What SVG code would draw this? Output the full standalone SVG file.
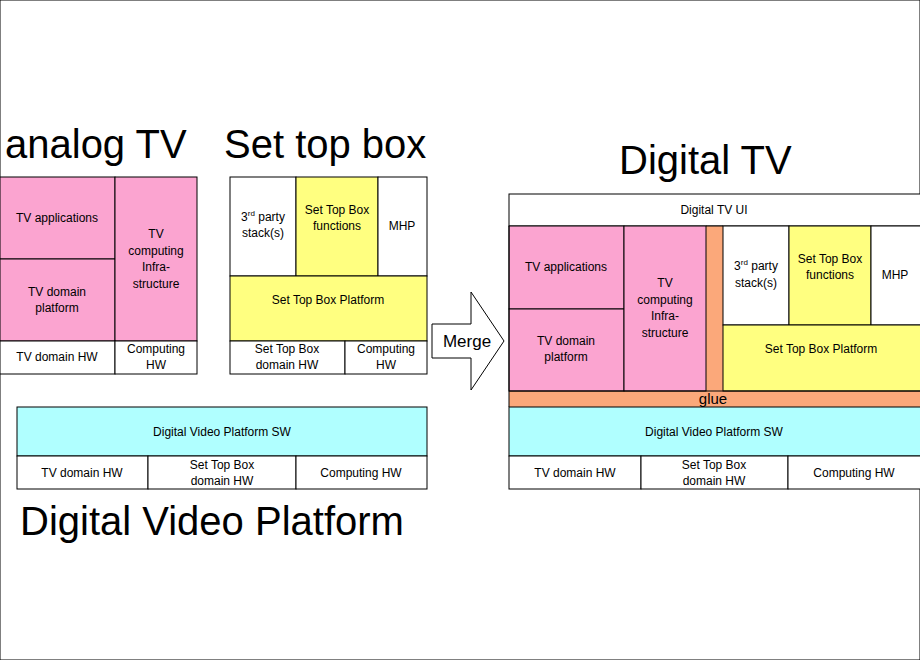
<svg xmlns="http://www.w3.org/2000/svg" width="920" height="660" viewBox="0 0 920 660">
<style>
rect{stroke:#000;stroke-width:1}
.w{fill:#fff}.p{fill:#fba4d0}.y{fill:#ffff80}.c{fill:#b0ffff}.g{fill:#fba87a;stroke:none}
text{font-family:"Liberation Sans",Arial,sans-serif;font-size:12px;text-anchor:middle;fill:#000}
.t{font-size:40px;text-anchor:start}
sup{font-size:8px}
</style>
<rect width="920" height="660" fill="#fff" stroke="none"/>
<text class="t" x="5" y="158">analog TV</text>
<text class="t" x="224" y="158">Set top box</text>
<text class="t" x="619" y="174">Digital TV</text>
<text class="t" x="20" y="535">Digital Video Platform</text>

<g id="analog">
<rect class="p" x="0" y="177" width="115" height="82"/><text x="57" y="222">TV applications</text>
<rect class="p" x="0" y="259" width="115" height="82"/><text x="57" y="296">TV domain</text><text x="57" y="312">platform</text>
<rect class="p" x="115" y="177" width="82" height="164"/><text x="156" y="238">TV</text><text x="156" y="255">computing</text><text x="156" y="271">Infra-</text><text x="156" y="288">structure</text>
<rect class="w" x="0" y="341" width="115" height="33"/><text x="57" y="361">TV domain HW</text>
<rect class="w" x="115" y="341" width="82" height="33"/><text x="156" y="353">Computing</text><text x="156" y="369">HW</text>
</g>

<g id="stb">
<rect class="w" x="230" y="177" width="66" height="99"/><text x="263" y="221">3<tspan font-size="8" dy="-5">rd</tspan><tspan dy="5"> party</tspan></text><text x="263" y="237">stack(s)</text>
<rect class="y" x="296" y="177" width="82" height="99"/><text x="337" y="214">Set Top Box</text><text x="337" y="230">functions</text>
<rect class="w" x="378" y="177" width="49" height="99"/><text x="402" y="230">MHP</text>
<rect class="y" x="230" y="276" width="197" height="65"/><text x="328" y="304">Set Top Box Platform</text>
<rect class="w" x="230" y="341" width="115" height="33"/><text x="287" y="353">Set Top Box</text><text x="287" y="369">domain HW</text>
<rect class="w" x="345" y="341" width="82" height="33"/><text x="386" y="353">Computing</text><text x="386" y="369">HW</text>
</g>

<g id="dvp">
<rect class="c" x="17" y="407" width="410" height="49"/><text x="222" y="436">Digital Video Platform SW</text>
<rect class="w" x="17" y="456" width="131" height="33"/><text x="82" y="477">TV domain HW</text>
<rect class="w" x="148" y="456" width="148" height="33"/><text x="222" y="469">Set Top Box</text><text x="222" y="485">domain HW</text>
<rect class="w" x="296" y="456" width="131" height="33"/><text x="361" y="477">Computing HW</text>
</g>

<g id="connectors">
<path d="M432,324 H471 V292 L504,341 L471,390 V358 H432 Z" fill="#fff" stroke="#000"/>
<text x="467" y="347" style="font-size:17px">Merge</text>
</g>

<g id="digitaltv">
<rect class="w" x="509" y="194" width="412" height="32"/><text x="714" y="214">Digital TV UI</text>
<rect class="g" x="509" y="226" width="412" height="181"/>
<rect class="p" x="509" y="226" width="115" height="83"/><text x="566" y="271">TV applications</text>
<rect class="p" x="509" y="309" width="115" height="82"/><text x="566" y="345">TV domain</text><text x="566" y="361">platform</text>
<rect class="p" x="624" y="226" width="82" height="165"/><text x="665" y="287">TV</text><text x="665" y="304">computing</text><text x="665" y="320">Infra-</text><text x="665" y="337">structure</text>
<rect class="w" x="723" y="226" width="66" height="99"/><text x="756" y="270">3<tspan font-size="8" dy="-5">rd</tspan><tspan dy="5"> party</tspan></text><text x="756" y="287">stack(s)</text>
<rect class="y" x="789" y="226" width="82" height="99"/><text x="830" y="263">Set Top Box</text><text x="830" y="279">functions</text>
<rect class="w" x="871" y="226" width="50" height="99"/><text x="895" y="279">MHP</text>
<rect class="y" x="723" y="325" width="198" height="66"/><text x="821" y="353">Set Top Box Platform</text>
<line x1="509" y1="226" x2="509" y2="407" stroke="#000"/>
<line x1="509" y1="391" x2="920" y2="391" stroke="#000"/>
<line x1="706" y1="226" x2="723" y2="226" stroke="#000"/>
<text x="713" y="404" style="font-size:15px">glue</text>
<rect class="c" x="509" y="407" width="412" height="49"/><text x="714" y="436">Digital Video Platform SW</text>
<rect class="w" x="509" y="456" width="132" height="33"/><text x="575" y="477">TV domain HW</text>
<rect class="w" x="641" y="456" width="147" height="33"/><text x="714" y="469">Set Top Box</text><text x="714" y="485">domain HW</text>
<rect class="w" x="788" y="456" width="133" height="33"/><text x="854" y="477">Computing HW</text>
</g>
</svg>
